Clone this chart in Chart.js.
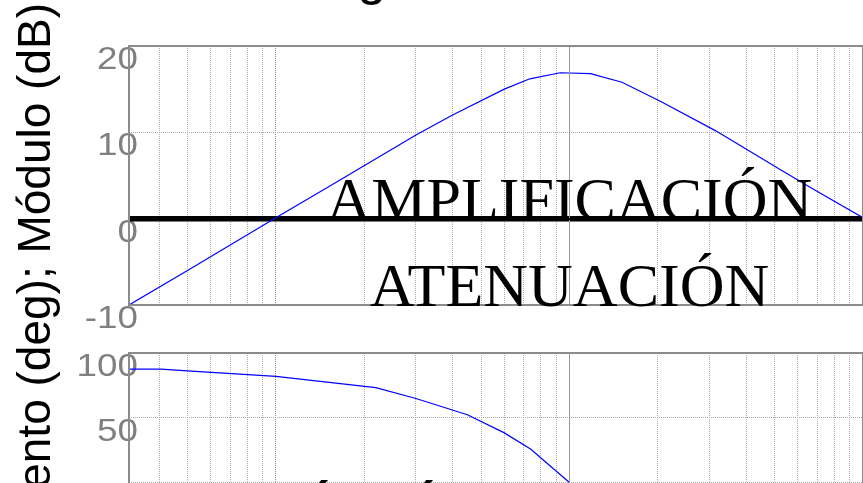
<!DOCTYPE html>
<html lang="es">
<head>
<meta charset="UTF-8">
<title>Diagrama de Bode</title>
<script src="https://cdn.jsdelivr.net/npm/chart.js"></script>
<style>
  html, body { margin: 0; padding: 0; width: 863px; height: 483px; overflow: hidden; background: #fff; }
  canvas { position: absolute; left: 0; }
  #magChart { top: 0; }
  #phaseChart { top: 330px; }
</style>
</head>
<body>
<canvas id="magChart" width="863" height="483"></canvas>
<canvas id="phaseChart" width="863" height="370"></canvas>
<script>
// frequency range of both subplots (rad/s)
const fMin = 0.316, fMax = 100;

// magnitude curve (dB)
const magFreq = [0.316, 0.5, 1.0, 1.66, 3.0, 4.0, 6.0, 7.33, 9.3, 11.8, 15.1, 20.4, 31.4, 52.2, 67.8, 100];
const magDb   = [-10, -6.0, 0.1, 4.5, 9.7, 12.0, 15.0, 16.2, 16.9, 16.8, 15.8, 13.6, 10.2, 5.7, 3.4, 0.1];

// phase curve (deg)
const phaseFreq = [0.316, 0.406, 0.5, 1.0, 2.19, 3.0, 4.49, 5.98, 7.37, 10];
const phaseDeg  = [87.5, 87.5, 86.2, 81.9, 73.2, 64.9, 52.3, 38.5, 25.9, 0];

// 0 dB reference line
const refFreq = [fMin, fMax];
const refDb = [0, 0];

// tick labels
const magTicks = [-10, 0, 10, 20];
const phaseTicks = [-100, -50, 0, 50, 100];

// text annotations
const magNotes = ['AMPLIFICACIÓN', 'ATENUACIÓN'];
const magNoteFreq = [10, 10];
const magNoteDb = [0, -10];
const phaseNotes = ['ROTACIÓN Ó RETRASO'];
const phaseNoteFreq = [2.8];
const phaseNoteDeg = [-38];

const titleText = 'Diagrama de Bode';
const yLabelText = 'Argumento (deg); Módulo (dB)';

const SANS = '"Liberation Sans", Arial, sans-serif';
const SERIF = '"Liberation Serif", "Times New Roman", serif';

function logGrid(scale) {
  const t = [];
  for (let e = -1; e <= 2; e++) {
    for (let m = 1; m < 10; m++) {
      const v = m * Math.pow(10, e);
      if (v >= fMin * 0.999 && v <= fMax * 1.001) t.push({ value: v });
    }
  }
  scale.ticks = t;
}

function isDecade(v) {
  const l = Math.log10(v);
  return Math.abs(l - Math.round(l)) < 1e-6;
}

// frame, tick labels, texts
const bodeDecor = {
  id: 'bodeDecor',
  beforeDatasetsDraw(chart, args, o) {
    const ctx = chart.ctx;
    const ys = chart.scales.y;
    // tick labels sit under the curves
    ctx.save();
    ctx.fillStyle = '#808080';
    ctx.font = '32px ' + SANS;
    ctx.textAlign = 'right';
    ctx.textBaseline = 'alphabetic';
    o.ticks.forEach(v => {
      ctx.save();
      ctx.translate(138, ys.getPixelForValue(v) + 23);
      ctx.scale(1.15, 1);
      ctx.fillText(String(v), 0, 0);
      ctx.restore();
    });
    ctx.restore();
  },
  afterDatasetsDraw(chart, args, o) {
    const ctx = chart.ctx, a = chart.chartArea;
    const xs = chart.scales.x, ys = chart.scales.y;
    ctx.save();
    // solid line at 10 rad/s
    ctx.strokeStyle = '#9a9a9a';
    ctx.lineWidth = 1;
    const x10 = Math.round(xs.getPixelForValue(10)) + 0.5;
    ctx.beginPath(); ctx.moveTo(x10, a.top); ctx.lineTo(x10, a.bottom); ctx.stroke();
    // box
    ctx.strokeStyle = '#8c8c8c';
    ctx.lineWidth = 2;
    ctx.strokeRect(a.left, a.top, a.right - a.left, a.bottom - a.top);
    // notes
    ctx.fillStyle = '#000';
    ctx.font = '62px ' + SERIF;
    ctx.textAlign = 'center';
    ctx.textBaseline = 'alphabetic';
    o.notes.forEach(n => {
      ctx.fillText(n.text, xs.getPixelForValue(n.x), ys.getPixelForValue(n.y) + 1);
    });
    ctx.restore();
  },
  afterDraw(chart, args, o) {
    const ctx = chart.ctx, a = chart.chartArea;
    ctx.save();
    ctx.fillStyle = '#000';
    ctx.textBaseline = 'alphabetic';
    if (o.title) {
      ctx.font = '52px ' + SANS;
      ctx.textAlign = 'center';
      ctx.fillText(o.title, (a.left + a.right) / 2, -6);
    }
    if (o.ylabel) {
      ctx.font = '46px ' + SANS;
      ctx.translate(50, 3);
      ctx.rotate(-Math.PI / 2);
      ctx.textAlign = 'right';
      ctx.fillText(o.ylabel, 0, 0);
    }
    ctx.restore();
  }
};

function makeChart(id, datasets, yMin, yMax, yTicks, padding, decor) {
  return new Chart(document.getElementById(id), {
    type: 'line',
    data: { datasets: datasets },
    plugins: [bodeDecor],
    options: {
      responsive: false,
      animation: false,
      events: [],
      layout: { padding: padding },
      elements: { point: { radius: 0 }, line: { tension: 0 } },
      scales: {
        x: {
          type: 'logarithmic',
          bounds: 'data',
          min: fMin, max: fMax,
          afterBuildTicks: logGrid,
          ticks: { display: false },
          border: { display: false, dash: [1, 1] },
          grid: {
            drawTicks: false,
            color: c => (c.tick && isDecade(c.tick.value)) ? '#8a8a8a' : '#b0b0b0'
          }
        },
        y: {
          type: 'linear',
          min: yMin, max: yMax,
          afterBuildTicks: s => { s.ticks = yTicks.map(v => ({ value: v })); },
          ticks: { display: false },
          border: { display: false, dash: [1, 1] },
          grid: { drawTicks: false, color: '#a8a8a8' }
        }
      },
      plugins: {
        legend: { display: false },
        tooltip: { enabled: false },
        bodeDecor: decor
      }
    }
  });
}

makeChart('magChart', [
  {
    data: magFreq.map((f, i) => ({ x: f, y: magDb[i] })),
    borderColor: '#0000ff', borderWidth: 1.2, fill: false
  },
  {
    data: refFreq.map((f, i) => ({ x: f, y: refDb[i] })),
    borderColor: '#000000', borderWidth: 5.5, fill: false
  }
], -10, 20, magTicks, { left: 129, right: 0, top: 46, bottom: 178 }, {
  ticks: magTicks,
  notes: magNotes.map((t, i) => ({ text: t, x: magNoteFreq[i], y: magNoteDb[i] })),
  title: titleText,
  ylabel: yLabelText
});

makeChart('phaseChart', [
  {
    data: phaseFreq.map((f, i) => ({ x: f, y: phaseDeg[i] })),
    borderColor: '#0000ff', borderWidth: 1.2, fill: false
  }
], -100, 100, phaseTicks, { left: 129, right: 0, top: 23, bottom: 88 }, {
  ticks: phaseTicks,
  notes: phaseNotes.map((t, i) => ({ text: t, x: phaseNoteFreq[i], y: phaseNoteDeg[i] })),
  title: null,
  ylabel: null
});
</script>
</body>
</html>
